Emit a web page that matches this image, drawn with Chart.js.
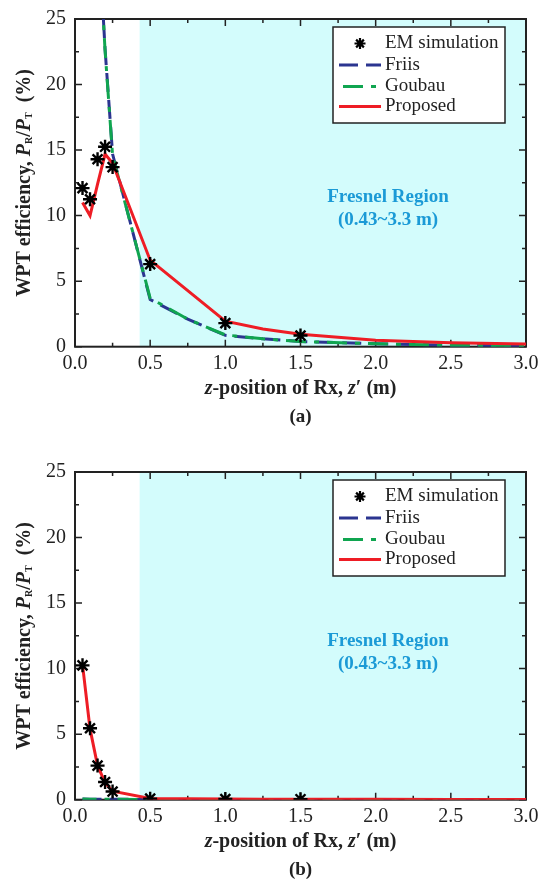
<!DOCTYPE html>
<html>
<head>
<meta charset="utf-8">
<script src="https://cdn.jsdelivr.net/npm/chart.js@4.4.1/dist/chart.umd.min.js"></script>
<style>
html, body { margin: 0; padding: 0; background: #fff; overflow: hidden; }
canvas { position: absolute; left: 0; }
#chartA { top: 0; }
#chartB { top: 453px; }
</style>
</head>
<body>
<canvas id="chartA" width="551" height="429"></canvas>
<canvas id="chartB" width="551" height="429"></canvas>
<script>
// z-positions (m)
const zEm = [0.05, 0.1, 0.15, 0.2, 0.25, 0.5, 1.0, 1.5];
const zModel = [0.05, 0.1, 0.15, 0.2, 0.25, 0.5, 0.75, 1.0, 1.25, 1.5, 2.0, 2.5, 3.0];
const zProposed = [0.05, 0.1, 0.15, 0.2, 0.25, 0.5, 1.0, 1.25, 1.5, 2.0, 2.5, 3.0];

// (a) efficiency in %
const emA = [12.1, 11.25, 14.3, 15.25, 13.7, 6.3, 1.8, 0.85];
const friisA = [95, 52, 33, 22.7, 14.7, 3.6, 2.1, 0.87, 0.6, 0.4, 0.22, 0.12, 0.07];
const goubauA = [95, 52, 33, 22.6, 14.6, 3.7, 2.1, 0.9, 0.6, 0.4, 0.22, 0.12, 0.07];
const proposedA = [11.0, 10.0, 12.4, 14.7, 14.0, 6.6, 1.95, 1.35, 0.95, 0.5, 0.3, 0.2];

// (b) efficiency in %
const emB = [10.25, 5.45, 2.6, 1.35, 0.62, 0.08, 0.05, 0.04];
const friisB = [0.05, 0.04, 0.04, 0.03, 0.03, 0.02, 0.02, 0.01, 0.01, 0.01, 0.0, 0.0, 0.0];
const goubauB = [0.05, 0.04, 0.04, 0.03, 0.03, 0.02, 0.02, 0.01, 0.01, 0.01, 0.0, 0.0, 0.0];
const proposedB = [10.3, 5.4, 2.6, 1.3, 0.65, 0.1, 0.05, 0.04, 0.04, 0.03, 0.02, 0.02];

const xTicks = { min: 0, max: 3, step: 0.5, minor: 0.25 };
const yTicks = { min: 0, max: 25, step: 5, minor: 2.5 };
const fresnelStart = 0.43;
const legendLabels = ["EM simulation", "Friis", "Goubau", "Proposed"];

const SERIF = "'Liberation Serif', 'Times New Roman', serif";
const INK = "#222";
const C_FRIIS = "#2b3590";
const C_GOUBAU = "#10a550";
const C_PROP = "#ee1d25";
const C_FRES = "#1b9ad6";

const pts = (xs, ys) => xs.map((x, k) => ({ x: x, y: ys[k] }));

function richText(ctx, segs, cx, cy, rot) {
  ctx.save();
  ctx.translate(cx, cy);
  if (rot) ctx.rotate(rot);
  let w = 0;
  segs.forEach(s => { ctx.font = s.font; w += ctx.measureText(s.t).width; });
  let x = -w / 2;
  ctx.textBaseline = "middle";
  ctx.textAlign = "left";
  ctx.fillStyle = INK;
  segs.forEach(s => {
    ctx.font = s.font;
    ctx.fillText(s.t, x, s.dy || 0);
    x += ctx.measureText(s.t).width;
  });
  ctx.restore();
}

const decor = {
  id: "decor",
  beforeDatasetsDraw(chart, args, opts) {
    const { ctx, chartArea: a, scales } = chart;
    const sx = scales.x, sy = scales.y;
    ctx.save();
    // Fresnel region shading
    const fx = sx.getPixelForValue(fresnelStart);
    ctx.fillStyle = "#d3fcfc";
    ctx.fillRect(fx, a.top, a.right - fx, a.bottom - a.top);
    // region text
    ctx.fillStyle = C_FRES;
    ctx.font = "bold 19px " + SERIF;
    ctx.textAlign = "center";
    ctx.textBaseline = "middle";
    ctx.fillText("Fresnel Region", opts.textX, opts.textY);
    ctx.fillText("(0.43~3.3 m)", opts.textX, opts.textY + 23);
    // frame
    ctx.strokeStyle = INK;
    ctx.lineWidth = 2;
    ctx.strokeRect(a.left, a.top, a.right - a.left, a.bottom - a.top);
    // inward ticks
    ctx.lineWidth = 1.5;
    ctx.beginPath();
    for (let v = xTicks.min; v <= xTicks.max + 1e-9; v += xTicks.minor) {
      const len = Math.abs(v / xTicks.step - Math.round(v / xTicks.step)) < 1e-6 ? 7 : 4;
      const px = sx.getPixelForValue(v);
      ctx.moveTo(px, a.bottom); ctx.lineTo(px, a.bottom - len);
      ctx.moveTo(px, a.top); ctx.lineTo(px, a.top + len);
    }
    for (let v = yTicks.min; v <= yTicks.max + 1e-9; v += yTicks.minor) {
      const len = Math.abs(v / yTicks.step - Math.round(v / yTicks.step)) < 1e-6 ? 7 : 4;
      const py = sy.getPixelForValue(v);
      ctx.moveTo(a.left, py); ctx.lineTo(a.left + len, py);
      ctx.moveTo(a.right, py); ctx.lineTo(a.right - len, py);
    }
    ctx.stroke();
    ctx.restore();
  },
  afterDatasetsDraw(chart) {
    const ctx = chart.ctx;
    ctx.save();
    // legend box
    const bx = 333, by = 27, bw = 172, bh = 96;
    ctx.fillStyle = "#fff";
    ctx.fillRect(bx, by, bw, bh);
    ctx.strokeStyle = INK;
    ctx.lineWidth = 1.5;
    ctx.strokeRect(bx, by, bw, bh);
    const rows = [43.5, 65, 86.5, 106.5];
    ctx.font = "19px " + SERIF;
    ctx.fillStyle = INK;
    ctx.textBaseline = "middle";
    ctx.textAlign = "left";
    legendLabels.forEach((lab, k) => ctx.fillText(lab, 385, rows[k]));
    // samples
    ctx.strokeStyle = "#000";
    ctx.lineWidth = 2.2;
    Chart.helpers.drawPoint(ctx, { pointStyle: "star", radius: 5.5, borderWidth: 2.2 }, 360, rows[0]);
    ctx.lineWidth = 3;
    ctx.strokeStyle = C_FRIIS;
    ctx.setLineDash([19, 8]);
    ctx.beginPath(); ctx.moveTo(339, rows[1]); ctx.lineTo(381, rows[1]); ctx.stroke();
    ctx.strokeStyle = C_GOUBAU;
    ctx.setLineDash([20, 8, 5, 8]);
    ctx.beginPath(); ctx.moveTo(343, rows[2]); ctx.lineTo(377, rows[2]); ctx.stroke();
    ctx.strokeStyle = C_PROP;
    ctx.setLineDash([]);
    ctx.beginPath(); ctx.moveTo(339, rows[3]); ctx.lineTo(381, rows[3]); ctx.stroke();
    ctx.restore();
  },
  afterDraw(chart, args, opts) {
    const { ctx, chartArea: a } = chart;
    const B = "bold 20px " + SERIF, BI = "italic bold 20px " + SERIF, S = "bold 10px " + SERIF;
    const cx = (a.left + a.right) / 2, cy = (a.top + a.bottom) / 2;
    richText(ctx, [
      { t: "WPT efficiency, ", font: B },
      { t: "P", font: BI },
      { t: "R", font: S, dy: 4 },
      { t: "/", font: B },
      { t: "P", font: BI },
      { t: "T", font: S, dy: 4 },
      { t: "  (%)", font: B }
    ], 25, cy, -Math.PI / 2);
    richText(ctx, [
      { t: "z", font: BI },
      { t: "-position of Rx, ", font: B },
      { t: "z", font: BI },
      { t: "\u2032 (m)", font: B }
    ], cx, a.bottom + 42);
    richText(ctx, [{ t: opts.caption, font: "bold 19px " + SERIF }], cx, a.bottom + 70);
  }
};

function makeChart(id, em, friis, goubau, proposed, caption, textY) {
  return new Chart(document.getElementById(id), {
    type: "line",
    data: {
      datasets: [
        { label: legendLabels[0], data: pts(zEm, em), showLine: false, order: 0,
          pointStyle: "star", pointRadius: 7, pointBorderWidth: 2.4,
          borderColor: "#000", backgroundColor: "#000" },
        { label: legendLabels[3], data: pts(zProposed, proposed), order: 1,
          borderColor: C_PROP, borderWidth: 3, pointRadius: 0, tension: 0 },
        { label: legendLabels[2], data: pts(zModel, goubau), order: 2,
          borderColor: C_GOUBAU, borderWidth: 3, pointRadius: 0, borderDash: [20, 8, 5, 8], borderDashOffset: 6 },
        { label: legendLabels[1], data: pts(zModel, friis), order: 3,
          borderColor: C_FRIIS, borderWidth: 3, pointRadius: 0, borderDash: [19, 8] }
      ]
    },
    options: {
      responsive: false,
      animation: false,
      events: [],
      layout: { padding: { top: 11, right: 25, left: 0, bottom: 0 } },
      plugins: {
        legend: { display: false },
        tooltip: { enabled: false },
        decor: { caption: caption, textX: 388, textY: textY }
      },
      scales: {
        x: {
          type: "linear", min: xTicks.min, max: xTicks.max,
          afterFit: s => { s.height = 82.3; },
          grid: { display: false, drawTicks: false },
          border: { display: false },
          ticks: { stepSize: xTicks.step, padding: 7, color: INK, maxRotation: 0, autoSkip: false,
                   font: { family: SERIF, size: 20, lineHeight: 1 },
                   callback: v => Number(v).toFixed(1) }
        },
        y: {
          min: yTicks.min, max: yTicks.max,
          afterFit: s => { s.width = 75; },
          grid: { display: false, drawTicks: false },
          border: { display: false },
          ticks: { stepSize: yTicks.step, padding: 9, color: INK,
                   font: { family: SERIF, size: 20, lineHeight: 1 } }
        }
      }
    },
    plugins: [decor]
  });
}

makeChart("chartA", emA, friisA, goubauA, proposedA, "(a)", 197);
makeChart("chartB", emB, friisB, goubauB, proposedB, "(b)", 188);
</script>
</body>
</html>
